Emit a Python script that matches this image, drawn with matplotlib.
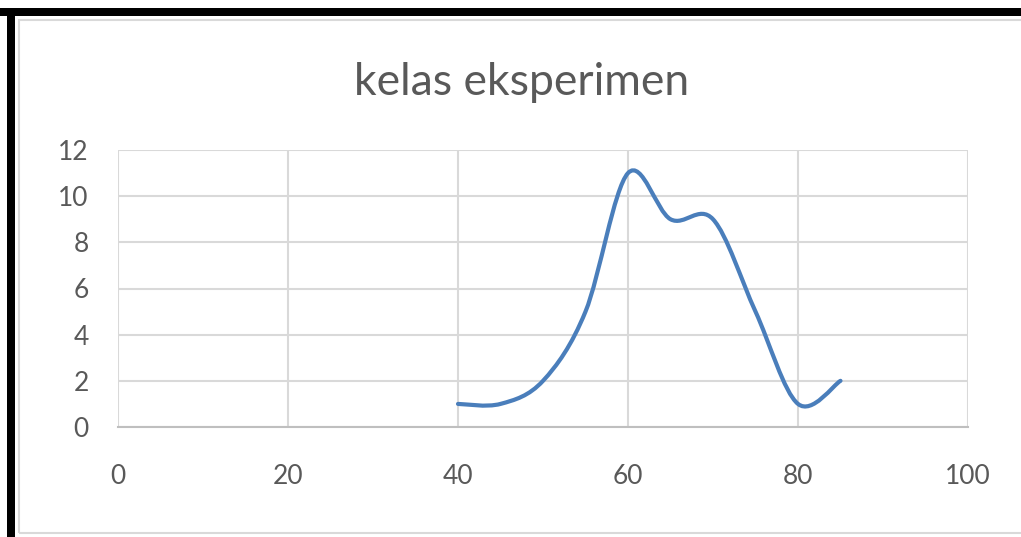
import matplotlib
matplotlib.use("Agg")
import matplotlib.pyplot as plt
from matplotlib.path import Path
from matplotlib.patches import PathPatch, Rectangle

# data (nilai vs frekuensi)
nilai = [40, 45, 50, 55, 60, 65, 70, 75, 80, 85]
frekuensi = [1, 1, 2, 5, 11, 9, 9, 5, 1, 2]

x_ticks = [0, 20, 40, 60, 80, 100]
y_ticks = [0, 2, 4, 6, 8, 10, 12]

text_col = "#595959"
grid_col = "#d9d9d9"
line_col = "#4a7ebb"

plt.rcParams['font.family'] = ['Lato', 'DejaVu Sans']

fig = plt.figure(figsize=(10.21, 5.37), dpi=100)
ax = fig.add_axes([118 / 1021, 110 / 537, 850 / 1021, 277 / 537])

# smooth line like Excel: cubic bezier through the points
pts = list(zip(nilai, frekuensi))
n = len(pts)
verts = [pts[0]]
codes = [Path.MOVETO]
for i in range(n - 1):
    p0 = pts[i - 1] if i > 0 else pts[i]
    p1 = pts[i]
    p2 = pts[i + 1]
    p3 = pts[i + 2] if i + 2 < n else pts[i + 1]
    c1 = (p1[0] + (p2[0] - p0[0]) / 6, p1[1] + (p2[1] - p0[1]) / 6)
    c2 = (p2[0] - (p3[0] - p1[0]) / 6, p2[1] - (p3[1] - p1[1]) / 6)
    verts += [c1, c2, p2]
    codes += [Path.CURVE4] * 3
curve = PathPatch(Path(verts, codes), fill=False, edgecolor=line_col,
                  linewidth=3.0, capstyle='round', joinstyle='round', zorder=3)
ax.add_patch(curve)

ax.set_xlim(0, 100)
ax.set_ylim(0, 12)
ax.set_xticks(x_ticks)
ax.set_yticks(y_ticks)
ax.grid(True, color=grid_col, linewidth=1.5)
ax.set_axisbelow(True)
for side in ['top', 'right', 'left']:
    ax.spines[side].set_visible(False)
ax.spines['bottom'].set_color("#bfbfbf")
ax.spines['bottom'].set_linewidth(1.5)
ax.tick_params(length=0, labelsize=19, labelcolor=text_col)
ax.tick_params(axis='y', pad=21)
ax.tick_params(axis='x', pad=27)

fig.text(522 / 1021, (537 - 95) / 537, "kelas eksperimen", ha='center',
         va='baseline', fontsize=32, color=text_col)

# borders of the screenshot
fig.patches.append(Rectangle((19 / 1021, 4 / 537), 1.0, 513 / 537, transform=fig.transFigure,
                             fill=False, edgecolor=grid_col, linewidth=1.5))
fig.patches.append(Rectangle((0, 521 / 537), 1.0, 8 / 537, transform=fig.transFigure,
                             facecolor='black', edgecolor='none'))
fig.patches.append(Rectangle((7 / 1021, 0), 8 / 1021, 529 / 537, transform=fig.transFigure,
                             facecolor='black', edgecolor='none'))

fig.savefig("out.png", dpi=100)
